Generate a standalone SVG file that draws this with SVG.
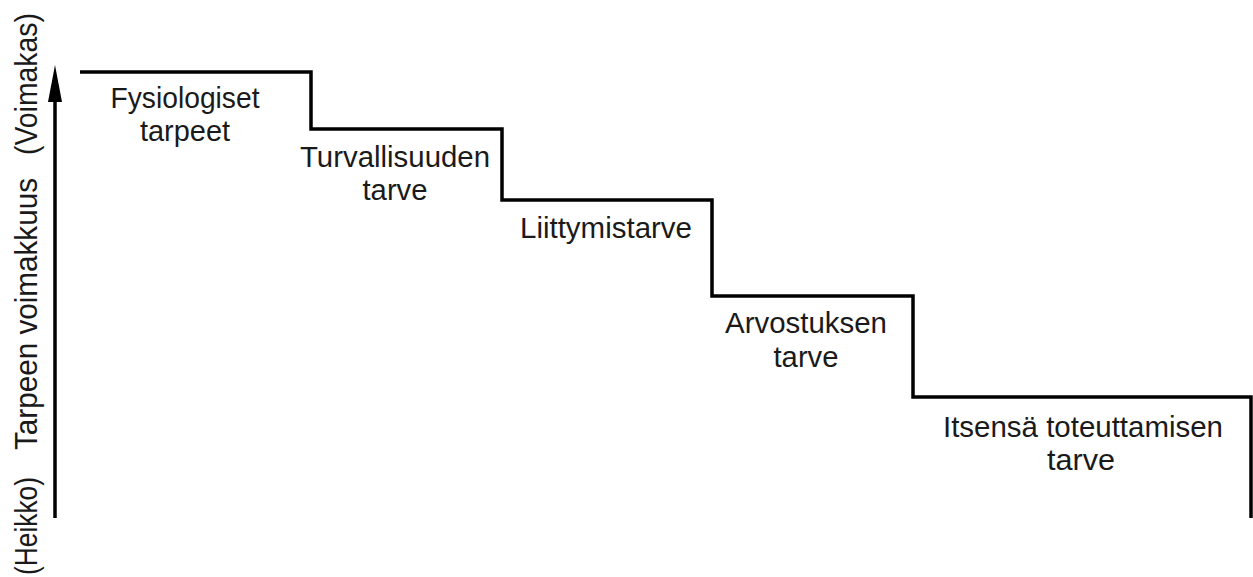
<svg xmlns="http://www.w3.org/2000/svg" width="1253" height="577" viewBox="0 0 1253 577">
<style>
.lbl{font-family:"Liberation Sans",Arial,sans-serif;font-size:29px;fill:#1a1a1a;text-anchor:middle}
.ax{font-family:"Liberation Sans",Arial,sans-serif;font-size:31px;fill:#1a1a1a}
.ln{fill:none;stroke:#000;stroke-width:3.5;stroke-linejoin:miter}
</style>
<rect width="1253" height="577" fill="#fff"/>
<g id="axis">
<line class="ln" x1="55" y1="518" x2="55" y2="98"/>
<polygon points="55,65 48,102 62,102" fill="#000"/>
<text class="ax" transform="translate(37,575) rotate(-90)" textLength="98" lengthAdjust="spacingAndGlyphs">(Heikko)</text>
<text class="ax" transform="translate(37,450) rotate(-90)" textLength="272" lengthAdjust="spacingAndGlyphs">Tarpeen voimakkuus</text>
<text class="ax" transform="translate(37,155) rotate(-90)" textLength="142" lengthAdjust="spacingAndGlyphs">(Voimakas)</text>
</g>
<g id="connectors">
<path class="ln" d="M80,72 H311 V129 H502 V200 H712 V296 H913 V397 H1251 V518"/>
</g>
<g id="n1"><text class="lbl" x="185" y="108" textLength="149" lengthAdjust="spacingAndGlyphs">Fysiologiset</text><text class="lbl" x="185" y="141" textLength="90" lengthAdjust="spacingAndGlyphs">tarpeet</text></g>
<g id="n2"><text class="lbl" x="395" y="167" textLength="190" lengthAdjust="spacingAndGlyphs">Turvallisuuden</text><text class="lbl" x="395" y="200" textLength="65" lengthAdjust="spacingAndGlyphs">tarve</text></g>
<g id="n3"><text class="lbl" x="606" y="238" textLength="172" lengthAdjust="spacingAndGlyphs">Liittymistarve</text></g>
<g id="n4"><text class="lbl" x="806" y="333" textLength="162" lengthAdjust="spacingAndGlyphs">Arvostuksen</text><text class="lbl" x="806" y="367" textLength="65" lengthAdjust="spacingAndGlyphs">tarve</text></g>
<g id="n5"><text class="lbl" x="1083" y="437" textLength="280" lengthAdjust="spacingAndGlyphs">Itsensä toteuttamisen</text><text class="lbl" x="1081" y="470" textLength="68" lengthAdjust="spacingAndGlyphs">tarve</text></g>
</svg>
